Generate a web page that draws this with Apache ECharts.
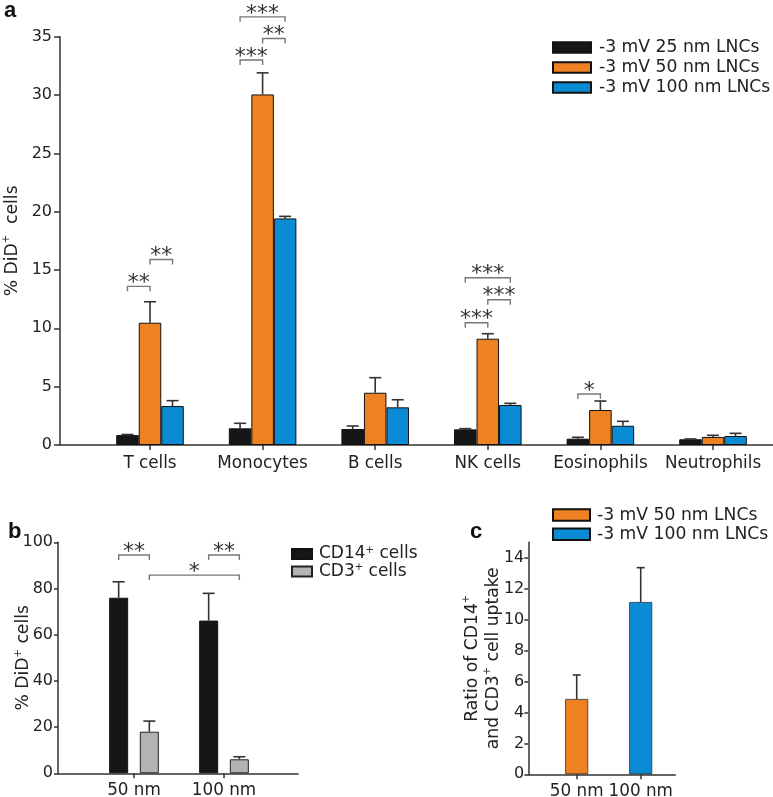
<!DOCTYPE html>
<html><head><meta charset="utf-8">
<script src="https://cdn.jsdelivr.net/npm/echarts@6/dist/echarts.min.js"></script>
<style>html,body{margin:0;padding:0;background:#fff}#c{width:773px;height:797px}</style>
</head><body><div id="c"></div>
<script>
// ---------- Panel a data ----------
const catsA = ['T cells','Monocytes','B cells','NK cells','Eosinophils','Neutrophils'];
const namesA = ['-3 mV 25 nm LNCs','-3 mV 50 nm LNCs','-3 mV 100 nm LNCs'];
const mean25 = [0.85, 1.43, 1.37, 1.34, 0.54, 0.49];
const err25  = [0.05, 0.43, 0.26, 0.06, 0.12, 0.03];
const mean50 = [10.48, 30.05, 4.48, 9.11, 3.0, 0.69];
const err50  = [1.8, 1.85, 1.29, 0.43, 0.77, 0.14];
const mean100 = [3.34, 19.42, 3.23, 3.43, 1.65, 0.77];
const err100  = [0.46, 0.18, 0.65, 0.14, 0.38, 0.23];
const ticksA = [0,5,10,15,20,25,30,35];
// brackets: [fromCat, fromSlot, toCat, toSlot, y]
const bracketsA = [[0,-1,0,0,13.6],[0,0,0,1,15.9],[1,-1,1,0,33.0],[1,0,1,1,34.85],[1,-1,1,1,36.7],[3,-1,3,0,10.48],[3,0,3,1,12.45],[3,-1,3,1,14.34],[4,-1,4,0,4.37]];
const bracketLabelsA = ['**','**','***','**','***','***','***','***','*'];

// ---------- Panel b data ----------
const catsB = ['50 nm','100 nm'];
const namesB = ['CD14+ cells','CD3+ cells'];
const cd14 = [76.0, 66.1];
const cd14Err = [6.9, 11.8];
const cd3 = [18.0, 6.06];
const cd3Err = [4.6, 1.1];
const ticksB = [0,20,40,60,80,100];
const bracketsB = [[0,-1,0,1,94.5],[1,-1,1,1,94.5],[0,1,1,1,85.8]];
const bracketLabelsB = ['**','**','*'];

// ---------- Panel c data ----------
const catsC = ['50 nm','100 nm'];
const namesC = ['-3 mV 50 nm LNCs','-3 mV 100 nm LNCs'];
const ratio = [4.87, 11.14];
const ratioErr = [1.55, 2.22];
const ticksC = [0,2,4,6,8,10,12,14];

const cBlack = '#161616', cOrange = '#EE8121', cBlue = '#0A8BD3', cGray = '#B3B3B3';
const txt = '#222';
const FONT = 'DejaVu Sans, sans-serif';

function errSeries(grid, data, slotFrac, capHalf) {
  return {
    type: 'custom', xAxisIndex: grid, yAxisIndex: grid, z: 5, silent: true,
    data: data,
    encode: {x: 0, y: 1},
    renderItem: function (params, api) {
      const cat = api.value(0), v = api.value(1), e = api.value(2), slot = api.value(3);
      const band = api.size([1, 0])[0];
      const p = api.coord([cat, v]);
      const t = api.coord([cat, v + e]);
      const x = p[0] + slot * band * slotFrac;
      return {type: 'group', children: [
        {type: 'line', shape: {x1: x, y1: p[1], x2: x, y2: t[1]}, style: {stroke: '#333', lineWidth: 1.6}},
        {type: 'line', shape: {x1: x - capHalf, y1: t[1], x2: x + capHalf, y2: t[1]}, style: {stroke: '#333', lineWidth: 1.6}}
      ]};
    }
  };
}
function bracketSeries(grid, data, labels, slotFrac) {
  return {
    type: 'custom', xAxisIndex: grid, yAxisIndex: grid, z: 6, silent: true, clip: false,
    data: data,
    encode: {x: 0, y: 4},
    renderItem: function (params, api) {
      const band = api.size([1, 0])[0];
      const y = api.value(4);
      const p1 = api.coord([api.value(0), y]);
      const p2 = api.coord([api.value(2), y]);
      const x1 = p1[0] + api.value(1) * band * slotFrac;
      const x2 = p2[0] + api.value(3) * band * slotFrac;
      const yy = p1[1];
      return {type: 'group', children: [
        {type: 'polyline', shape: {points: [[x1, yy + 5], [x1, yy], [x2, yy], [x2, yy + 5]]}, style: {stroke: '#777', lineWidth: 1.4, fill: null}},
        {type: 'text', style: {text: labels[params.dataIndex], x: (x1 + x2) / 2, y: yy + 8, align: 'center', verticalAlign: 'bottom', font: '22px DejaVu Sans', fill: '#333'}}
      ]};
    }
  };
}

const supRich = {sup: {fontSize: 10, verticalAlign: 'top', fontFamily: FONT, color: txt}};

function catX(grid, cats, margin) {
  return {type: 'category', gridIndex: grid, data: cats,
    axisLine: {show: false},
    axisTick: {show: true, alignWithLabel: true, length: 5, lineStyle: {color: '#333', width: 1.5}},
    axisLabel: {fontSize: 16.8, fontFamily: FONT, color: txt, margin: margin, interval: 0}};
}
function valY(grid, max, ticks, offset, margin, tickLen, name, nameGap, lh) {
  return {type: 'value', gridIndex: grid, min: 0, max: max, offset: offset,
    axisLine: {show: true, lineStyle: {color: '#333', width: 1.5}},
    axisTick: {show: true, length: tickLen, customValues: ticks, lineStyle: {color: '#333', width: 1.5}},
    axisLabel: {fontSize: 16, fontFamily: FONT, color: txt, margin: margin, customValues: ticks},
    splitLine: {show: false},
    name: name, nameLocation: 'middle', nameRotate: 90, nameGap: nameGap, nameMoveOverlap: false,
    nameTextStyle: {fontSize: 17.2, fontFamily: FONT, color: txt, rich: {
      sup: {fontSize: 10, verticalAlign: 'top', fontFamily: FONT, color: txt, lineHeight: lh},
      n: {fontSize: 17.2, fontFamily: FONT, color: txt, lineHeight: lh}}}};
}
function baseX(grid) {
  return {type: 'value', gridIndex: grid, min: 0, max: 1, axisLine: {show: true, onZero: false, lineStyle: {color: '#333', width: 1.5}},
    axisTick: {show: false}, axisLabel: {show: false}, splitLine: {show: false}};
}
function baseY(grid) {
  return {type: 'value', gridIndex: grid, min: 0, max: 1, show: false};
}
function grid(left, top, width, height) {
  return {left: left, top: top, width: width, height: height, containLabel: false, outerBoundsMode: 'none'};
}

const option = {
  animation: false,
  backgroundColor: '#fff',
  textStyle: {fontFamily: FONT},
  grid: [
    grid(93.7, 36.7, 675.6, 408.3),   // 0 panel a bars
    grid(60, 36.7, 713, 408.3),       // 1 panel a baseline
    grid(89, 542.3, 180, 231),        // 2 panel b bars
    grid(58, 542.3, 240, 231),        // 3 panel b baseline
    grid(544.7, 542.3, 128, 232),     // 4 panel c bars
    grid(528.3, 542.3, 147, 232)      // 5 panel c baseline
  ],
  xAxis: [catX(0, catsA, 10), baseX(1), catX(2, catsB, 9), baseX(3), catX(4, catsC, 9), baseX(5)],
  yAxis: [
    valY(0, 35, ticksA, 33.7, 8, 6, '{n|% DiD}{sup|+}{n|  cells}', 36.5, 22), baseY(1),
    valY(2, 100, ticksB, 31, 5, 4, '{n|% DiD}{sup|+}{n| cells}', 23, 22), baseY(3),
    valY(4, 15, ticksC, 16.4, 4, 4, '{n|Ratio of CD14}{sup|+}\n{n|and CD3}{sup|+}{n| cell uptake}', 24.5, 21), baseY(5)
  ],
  legend: [
    {data: namesA, orient: 'vertical', left: 552, top: 37.5, padding: 0, itemWidth: 38, itemHeight: 10.5, itemGap: 0, icon: 'rect',
     textStyle: {fontSize: 17.2, lineHeight: 20, fontFamily: FONT, color: txt, padding: [0, 0, 0, 3]}, selectedMode: false},
    {data: namesB, orient: 'vertical', left: 291, top: 545.3, padding: 0, itemWidth: 20, itemHeight: 10, itemGap: 0, icon: 'rect',
     formatter: n => n.replace('+', '{sup|+}'),
     textStyle: {fontSize: 17, lineHeight: 17.5, fontFamily: FONT, color: txt, padding: [0, 0, 0, 2], rich: supRich}, selectedMode: false},
    {data: namesC, orient: 'vertical', left: 552, top: 505.4, padding: 0, itemWidth: 37, itemHeight: 11.5, itemGap: 0, icon: 'rect',
     textStyle: {fontSize: 17.2, lineHeight: 19.3, fontFamily: FONT, color: txt, padding: [0, 0, 0, 2]}, selectedMode: false}
  ],
  graphic: [
    {type: 'text', left: 4, top: 0, style: {text: 'a', font: 'bold 22px Liberation Sans', fill: '#111'}},
    {type: 'text', left: 8, top: 521, style: {text: 'b', font: 'bold 22px Liberation Sans', fill: '#111'}},
    {type: 'text', left: 470, top: 521, style: {text: 'c', font: 'bold 22px Liberation Sans', fill: '#111'}}
  ],
  series: [
    {name: namesA[0], type: 'bar', xAxisIndex: 0, yAxisIndex: 0, data: mean25, barWidth: '20%', barGap: '0%',
     itemStyle: {color: cBlack, borderColor: '#111', borderWidth: 1}},
    {name: namesA[1], type: 'bar', xAxisIndex: 0, yAxisIndex: 0, data: mean50, barWidth: '20%', barGap: '0%',
     itemStyle: {color: cOrange, borderColor: '#111', borderWidth: 1}},
    {name: namesA[2], type: 'bar', xAxisIndex: 0, yAxisIndex: 0, data: mean100, barWidth: '20%', barGap: '0%',
     itemStyle: {color: cBlue, borderColor: '#111', borderWidth: 1}},
    errSeries(0, mean25.map((v, i) => [i, v, err25[i], -1]), 0.2, 6),
    errSeries(0, mean50.map((v, i) => [i, v, err50[i], 0]), 0.2, 6),
    errSeries(0, mean100.map((v, i) => [i, v, err100[i], 1]), 0.2, 6),
    bracketSeries(0, bracketsA, bracketLabelsA, 0.2),

    {name: namesB[0], type: 'bar', xAxisIndex: 2, yAxisIndex: 2, data: cd14, barWidth: '21.1%', barGap: '61.5%',
     itemStyle: {color: cBlack, borderColor: '#111', borderWidth: 1}},
    {name: namesB[1], type: 'bar', xAxisIndex: 2, yAxisIndex: 2, data: cd3, barWidth: '21.1%', barGap: '61.5%',
     itemStyle: {color: cGray, borderColor: '#222', borderWidth: 1}},
    errSeries(2, cd14.map((v, i) => [i, v, cd14Err[i], -1]), 0.1704, 6),
    errSeries(2, cd3.map((v, i) => [i, v, cd3Err[i], 1]), 0.1704, 6),
    bracketSeries(2, bracketsB, bracketLabelsB, 0.1704),

    {name: namesC[0], type: 'bar', xAxisIndex: 4, yAxisIndex: 4, data: [ratio[0], '-'], barWidth: '36%', barGap: '-100%',
     itemStyle: {color: cOrange, borderColor: '#333', borderWidth: 0.8}},
    {name: namesC[1], type: 'bar', xAxisIndex: 4, yAxisIndex: 4, data: ['-', ratio[1]], barWidth: '36%', barGap: '-100%',
     itemStyle: {color: cBlue, borderColor: '#333', borderWidth: 0.8}},
    errSeries(4, ratio.map((v, i) => [i, v, ratioErr[i], 0]), 0, 4)
  ]
};
const chart = echarts.init(document.getElementById('c'), null, {renderer: 'canvas'});
chart.setOption(option);
</script></body></html>
